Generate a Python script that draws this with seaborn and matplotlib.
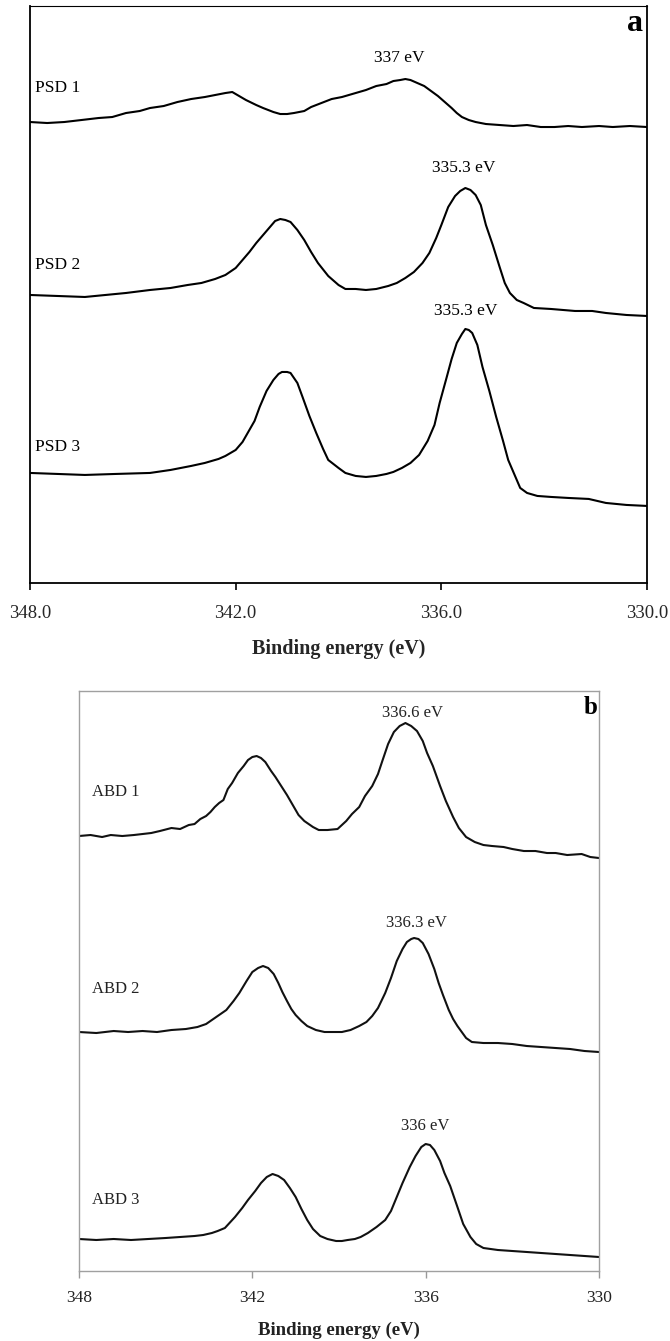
import matplotlib
matplotlib.use("Agg")
import matplotlib.pyplot as plt
import seaborn as sns

# ---------------- panel a: PSD spectra (binding energy eV, intensity a.u.) ----------------
psd1_x = [348.0, 347.5, 347.0, 346.5, 346.0, 345.6, 345.2, 344.8, 344.5, 344.1, 343.7, 343.3,
          342.9, 342.6, 342.3, 342.1, 341.9, 341.7, 341.4, 341.2, 340.9, 340.7, 340.5, 340.3,
          340.0, 339.8, 339.5, 339.2, 338.9, 338.5, 338.2, 337.9, 337.6, 337.4, 337.2, 337.05,
          336.9, 336.7, 336.5, 336.3, 336.1, 335.9, 335.7, 335.55, 335.4, 335.2, 335.0, 334.7,
          334.3, 333.9, 333.5, 333.1, 332.7, 332.3, 331.9, 331.4, 331.0, 330.5, 330.0]
psd1_y = [461, 460, 461, 463, 465, 466, 470, 472, 475, 477, 481, 484,
          486, 488, 490, 491, 487, 483, 478, 475, 471, 469, 469, 470,
          472, 476, 480, 484, 486, 490, 493, 497, 499, 502, 503, 504,
          503, 500, 497, 492, 487, 481, 475, 470, 466, 463, 461, 459,
          458, 457, 458, 456, 456, 457, 456, 457, 456, 457, 456]

psd2_x = [348.0, 347.2, 346.4, 345.8, 345.2, 344.5, 343.9, 343.4, 343.0, 342.6, 342.3, 342.0,
          341.8, 341.6, 341.4, 341.2, 341.0, 340.85, 340.7, 340.55, 340.4, 340.2, 340.0, 339.8,
          339.6, 339.3, 339.0, 338.8, 338.5, 338.2, 337.9, 337.55, 337.3, 337.05, 336.8, 336.55,
          336.35, 336.15, 336.0, 335.8, 335.6, 335.45, 335.3, 335.15, 335.0, 334.85, 334.7, 334.5,
          334.3, 334.15, 334.0, 333.8, 333.6, 333.3, 332.8, 332.1, 331.6, 331.2, 330.6, 330.0]
psd2_y = [288, 287, 286, 288, 290, 293, 295, 298, 300, 304, 308, 315,
          323, 331, 340, 348, 356, 362, 364, 363, 361, 353, 343, 331,
          320, 307, 298, 294, 294, 293, 294, 297, 300, 305, 311, 320,
          330, 345, 358, 376, 387, 392, 395, 393, 388, 378, 358, 338,
          316, 300, 290, 283, 280, 275, 274, 272, 272, 270, 268, 267]

psd3_x = [348.0, 347.2, 346.4, 345.5, 344.5, 343.9, 343.3, 342.9, 342.5, 342.3, 342.0, 341.8,
          341.65, 341.45, 341.3, 341.1, 340.9, 340.75, 340.65, 340.5, 340.4, 340.2, 340.05, 339.85,
          339.65, 339.45, 339.3, 339.0, 338.8, 338.5, 338.2, 337.9, 337.6, 337.4, 337.15, 336.9,
          336.65, 336.4, 336.2, 336.05, 335.85, 335.7, 335.55, 335.4, 335.3, 335.2, 335.1, 334.95,
          334.8, 334.6, 334.4, 334.2, 334.05, 333.85, 333.7, 333.5, 333.2, 332.8, 332.3, 331.7,
          331.2, 330.6, 330.0]
psd3_y = [110, 109, 108, 109, 110, 113, 117, 120, 124, 127, 133, 141,
          150, 162, 176, 192, 203, 209, 211, 211, 210, 200, 186, 167,
          150, 134, 123, 115, 110, 107, 106, 107, 109, 111, 115, 120,
          128, 142, 158, 180, 205, 224, 240, 249, 254, 253, 250, 238,
          216, 192, 166, 142, 123, 107, 95, 90, 87, 86, 85, 84,
          80, 78, 77]

psd_names = ["PSD 1", "PSD 2", "PSD 3"]
psd_label_y = [495, 318, 136]
psd_peaks = ["337 eV", "335.3 eV", "335.3 eV"]
psd_peak_x = [337.23, 335.36, 335.30]
psd_peak_y = [525, 415, 272]

# ---------------- panel b: ABD spectra ----------------
abd1_x = [348.0, 347.6, 347.2, 346.9, 346.5, 346.1, 345.8, 345.5, 345.2, 344.8, 344.5, 344.2,
          344.0, 343.8, 343.6, 343.45, 343.3, 343.15, 343.0, 342.85, 342.7, 342.5, 342.3, 342.15,
          342.0, 341.85, 341.7, 341.55, 341.35, 341.2, 341.0, 340.8, 340.6, 340.4, 340.2, 340.05,
          339.9, 339.7, 339.4, 339.05, 338.9, 338.75, 338.55, 338.3, 338.1, 337.85, 337.65, 337.5,
          337.3, 337.1, 336.9, 336.7, 336.5, 336.3, 336.1, 335.95, 335.75, 335.5, 335.3, 335.05,
          334.85, 334.6, 334.3, 334.0, 333.7, 333.3, 333.0, 332.6, 332.2, 331.8, 331.5, 331.1,
          330.6, 330.3, 330.0]
abd1_y = [435, 436, 434, 436, 435, 436, 437, 438, 440, 443, 442, 446,
          447, 452, 455, 459, 464, 468, 471, 482, 488, 498, 505, 511,
          514, 515, 513, 509, 500, 494, 485, 476, 466, 456, 450, 447,
          444, 441, 441, 442, 446, 450, 457, 464, 475, 485, 497, 510,
          527, 539, 545, 548, 545, 540, 530, 518, 505, 485, 470, 454,
          443, 434, 429, 426, 425, 424, 422, 420, 420, 418, 418, 416,
          417, 414, 413]

abd2_x = [348.0, 347.4, 346.8, 346.3, 345.8, 345.3, 344.8, 344.3, 343.9, 343.6, 343.3, 343.1,
          342.9, 342.65, 342.45, 342.2, 342.0, 341.8, 341.63, 341.45, 341.26, 341.1, 340.96, 340.8,
          340.65, 340.5, 340.3, 340.1, 339.8, 339.5, 339.2, 338.9, 338.6, 338.3, 338.05, 337.85,
          337.65, 337.4, 337.2, 337.0, 336.8, 336.65, 336.5, 336.4, 336.25, 336.1, 335.9, 335.7,
          335.55, 335.4, 335.2, 335.05, 334.9, 334.75, 334.6, 334.4, 334.0, 333.5, 333.0, 332.5,
          332.0, 331.5, 331.0, 330.5, 330.0]
abd2_y = [239, 238, 240, 239, 240, 239, 241, 242, 244, 247, 253, 257,
          261, 270, 278, 290, 299, 303, 305, 303, 297, 288, 279, 270,
          262, 256, 250, 245, 241, 239, 239, 239, 241, 245, 249, 255,
          263, 278, 293, 310, 322, 329, 332, 333, 332, 328, 317, 302,
          288, 276, 261, 252, 245, 239, 233, 229, 228, 228, 227, 225,
          224, 223, 222, 220, 219]

abd3_x = [348.0, 347.4, 346.8, 346.2, 345.6, 345.0, 344.5, 344.0, 343.7, 343.4, 343.2, 342.95,
          342.6, 342.35, 342.15, 341.9, 341.7, 341.5, 341.3, 341.1, 340.9, 340.7, 340.5, 340.3,
          340.1, 339.9, 339.65, 339.4, 339.1, 338.9, 338.7, 338.45, 338.25, 338.0, 337.7, 337.4,
          337.2, 337.0, 336.8, 336.55, 336.35, 336.15, 336.0, 335.85, 335.7, 335.5, 335.35, 335.15,
          334.9, 334.7, 334.45, 334.25, 334.0, 333.5, 333.0, 332.5, 332.0, 331.5, 331.0, 330.5,
          330.0]
abd3_y = [32, 31, 32, 31, 32, 33, 34, 35, 36, 38, 40, 43,
          54, 63, 71, 80, 88, 94, 97, 95, 91, 83, 74, 62,
          51, 42, 35, 32, 30, 30, 31, 32, 34, 38, 44, 51,
          60, 74, 88, 104, 115, 124, 127, 126, 121, 110, 98, 85,
          64, 47, 34, 27, 23, 21, 20, 19, 18, 17, 16, 15,
          14]

abd_names = ["ABD 1", "ABD 2", "ABD 3"]
abd_label_y = [479, 282, 71]
abd_peaks = ["336.6 eV", "336.3 eV", "336 eV"]
abd_peak_x = [336.46, 336.31, 336.02]
abd_peak_y = [558, 348, 145]

ticks = [348, 342, 336, 330]

sns.set_theme(style="white")
plt.rcParams["font.family"] = ["Liberation Serif", "DejaVu Serif"]
plt.rcParams["text.color"] = "black"

fig = plt.figure(figsize=(6.7, 13.41), dpi=100)
ax_a = fig.add_axes([0.0448, 0.5653, 0.9209, 0.4302])
ax_b = fig.add_axes([0.1179, 0.0522, 0.7761, 0.4325])

# panel a
for xs, ys in [(psd1_x, psd1_y), (psd2_x, psd2_y), (psd3_x, psd3_y)]:
    sns.lineplot(x=xs, y=ys, ax=ax_a, color="black", linewidth=1.5, estimator=None)
for name, ly in zip(psd_names, psd_label_y):
    ax_a.text(347.85, ly, name, fontsize=12.5, ha="left", va="center")
for lab, px, py in zip(psd_peaks, psd_peak_x, psd_peak_y):
    ax_a.text(px, py, lab, fontsize=12.5, ha="center", va="center")
ax_a.text(330.35, 560, "a", fontsize=23, fontweight="bold", ha="center", va="center")

ax_a.set_xlim(348, 330)
ax_a.set_ylim(0, 577)
ax_a.set_xticks(ticks)
ax_a.set_xticklabels([f"{t:.1f}" for t in ticks])
ax_a.set_yticks([])
ax_a.tick_params(axis="x", bottom=True, direction="out", length=5, width=1.2,
                 color="black", labelsize=13.5, pad=11)
for sp in ax_a.spines.values():
    sp.set_color("black")
    sp.set_linewidth(1.3)
ax_a.spines["top"].set_linewidth(0.8)
ax_a.set_xlabel("Binding energy (eV)", fontsize=14.5, fontweight="bold", labelpad=12)

# panel b
for xs, ys in [(abd1_x, abd1_y), (abd2_x, abd2_y), (abd3_x, abd3_y)]:
    sns.lineplot(x=xs, y=ys, ax=ax_b, color="#111111", linewidth=1.5, estimator=None)
for name, ly in zip(abd_names, abd_label_y):
    ax_b.text(347.55, ly, name, fontsize=12, ha="left", va="center", color="#222222")
for lab, px, py in zip(abd_peaks, abd_peak_x, abd_peak_y):
    ax_b.text(px, py, lab, fontsize=12, ha="center", va="center", color="#222222")
ax_b.text(330.3, 564, "b", fontsize=18, fontweight="bold", ha="center", va="center")

ax_b.set_xlim(348, 330)
ax_b.set_ylim(0, 580)
ax_b.set_xticks(ticks)
ax_b.set_xticklabels([str(t) for t in ticks])
ax_b.set_yticks([])
ax_b.tick_params(axis="x", bottom=True, direction="out", length=5, width=1.0,
                 color="#999999", labelsize=12.5, pad=9, labelcolor="#222222")
for sp in ax_b.spines.values():
    sp.set_color("#a0a0a0")
    sp.set_linewidth(1.0)
ax_b.set_xlabel("Binding energy (eV)", fontsize=13.5, fontweight="bold", labelpad=11,
                color="#222222")

fig.savefig("out.png", dpi=100)
